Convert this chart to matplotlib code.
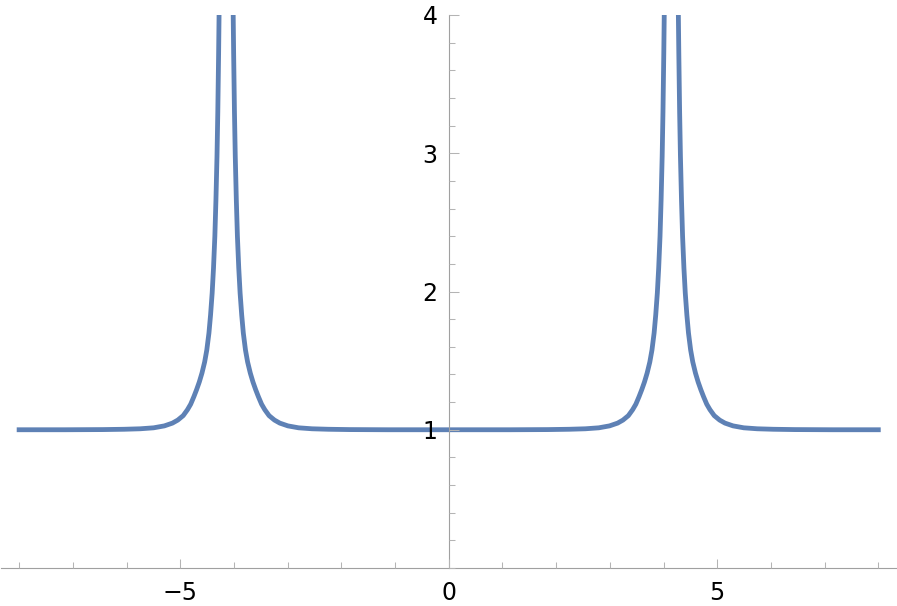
import matplotlib
matplotlib.use("Agg")
import matplotlib.pyplot as plt
from matplotlib.ticker import MultipleLocator, FixedLocator
import numpy as np

plt.rcParams["font.family"] = "DejaVu Sans"

# values for the right peak (x > 0);
# the left half of the curve is its mirror image
# inner side: from x = 0 up to the top edge
x_inner = [0.0, 1.145, 1.845, 2.245, 2.545, 2.795, 2.995, 3.145, 3.245, 3.345,
           3.425, 3.485, 3.545, 3.595, 3.645, 3.695, 3.745, 3.785, 3.825,
           3.855, 3.885, 3.91, 3.935, 3.955, 3.975, 3.99, 4.005, 4.015, 4.025]
y_inner = [1.0, 1.0, 1.0012, 1.0035, 1.007, 1.014, 1.028, 1.048, 1.07, 1.102,
           1.145, 1.185, 1.24, 1.29, 1.345, 1.41, 1.49, 1.577, 1.70,
           1.83, 1.99, 2.17, 2.40, 2.66, 2.98, 3.30, 3.72, 4.05, 4.45]

# outer side: from the top edge out to x = 8
x_outer = [4.265, 4.275, 4.285, 4.30, 4.315, 4.335, 4.355, 4.38, 4.405, 4.435,
           4.465, 4.505, 4.545, 4.595, 4.645, 4.695, 4.745, 4.805, 4.865,
           4.945, 5.045, 5.145, 5.295, 5.495, 5.745, 6.045, 6.445, 7.145, 8.0]
y_outer = [4.45, 4.05, 3.72, 3.30, 2.98, 2.66, 2.40, 2.17, 1.99, 1.83,
           1.70, 1.577, 1.49, 1.41, 1.345, 1.29, 1.24, 1.185, 1.145,
           1.102, 1.07, 1.048, 1.028, 1.014, 1.007, 1.0035, 1.0012, 1.0, 1.0]

x_major = [-5, 0, 5]
x_labels = ["\u22125", "0", "5"]
y_major = [1, 2, 3, 4]
y_labels = ["1", "2", "3", "4"]

xi = np.array(x_inner)
xo = np.array(x_outer)
yi = np.array(y_inner)
yo = np.array(y_outer)

# three pieces, broken at the poles
x_all = np.concatenate([-xo[::-1], [np.nan], -xi[::-1], xi[1:], [np.nan], xo])
y_all = np.concatenate([yo[::-1], [np.nan], yi[::-1], yi[1:], [np.nan], yo])

fig = plt.figure(figsize=(8.97, 6.06), dpi=100)
ax = fig.add_axes([0, 38 / 606, 1, 553 / 606])

ax.plot(x_all, y_all, color="#5E81B5", lw=3.45, solid_capstyle="projecting",
        zorder=2)

ax.set_xlim(-8.356, 8.348)
ax.set_ylim(0, 4)

ax.spines["top"].set_visible(False)
ax.spines["right"].set_visible(False)
ax.spines["left"].set_position(("data", 0))
ax.spines["bottom"].set_bounds(-8.33, 8.33)
for s in ["left", "bottom"]:
    ax.spines[s].set_color("#a0a0a0")
    ax.spines[s].set_linewidth(0.8)
ax.set_axisbelow(False)

ax.xaxis.set_major_locator(FixedLocator(x_major))
ax.xaxis.set_minor_locator(FixedLocator(range(-8, 9)))
ax.yaxis.set_major_locator(FixedLocator(y_major))
ax.yaxis.set_minor_locator(MultipleLocator(0.2))
ax.set_xticklabels(x_labels)
ax.set_yticklabels(y_labels)

ax.tick_params(which="both", direction="in", color="#b4b4b4", width=0.75,
               labelsize=17)
ax.tick_params(axis="x", which="major", length=6.8, pad=9.5)
ax.tick_params(axis="y", which="major", length=7.5, pad=8)
ax.tick_params(which="minor", length=4.2)

fig.savefig("out.png", dpi=100)
